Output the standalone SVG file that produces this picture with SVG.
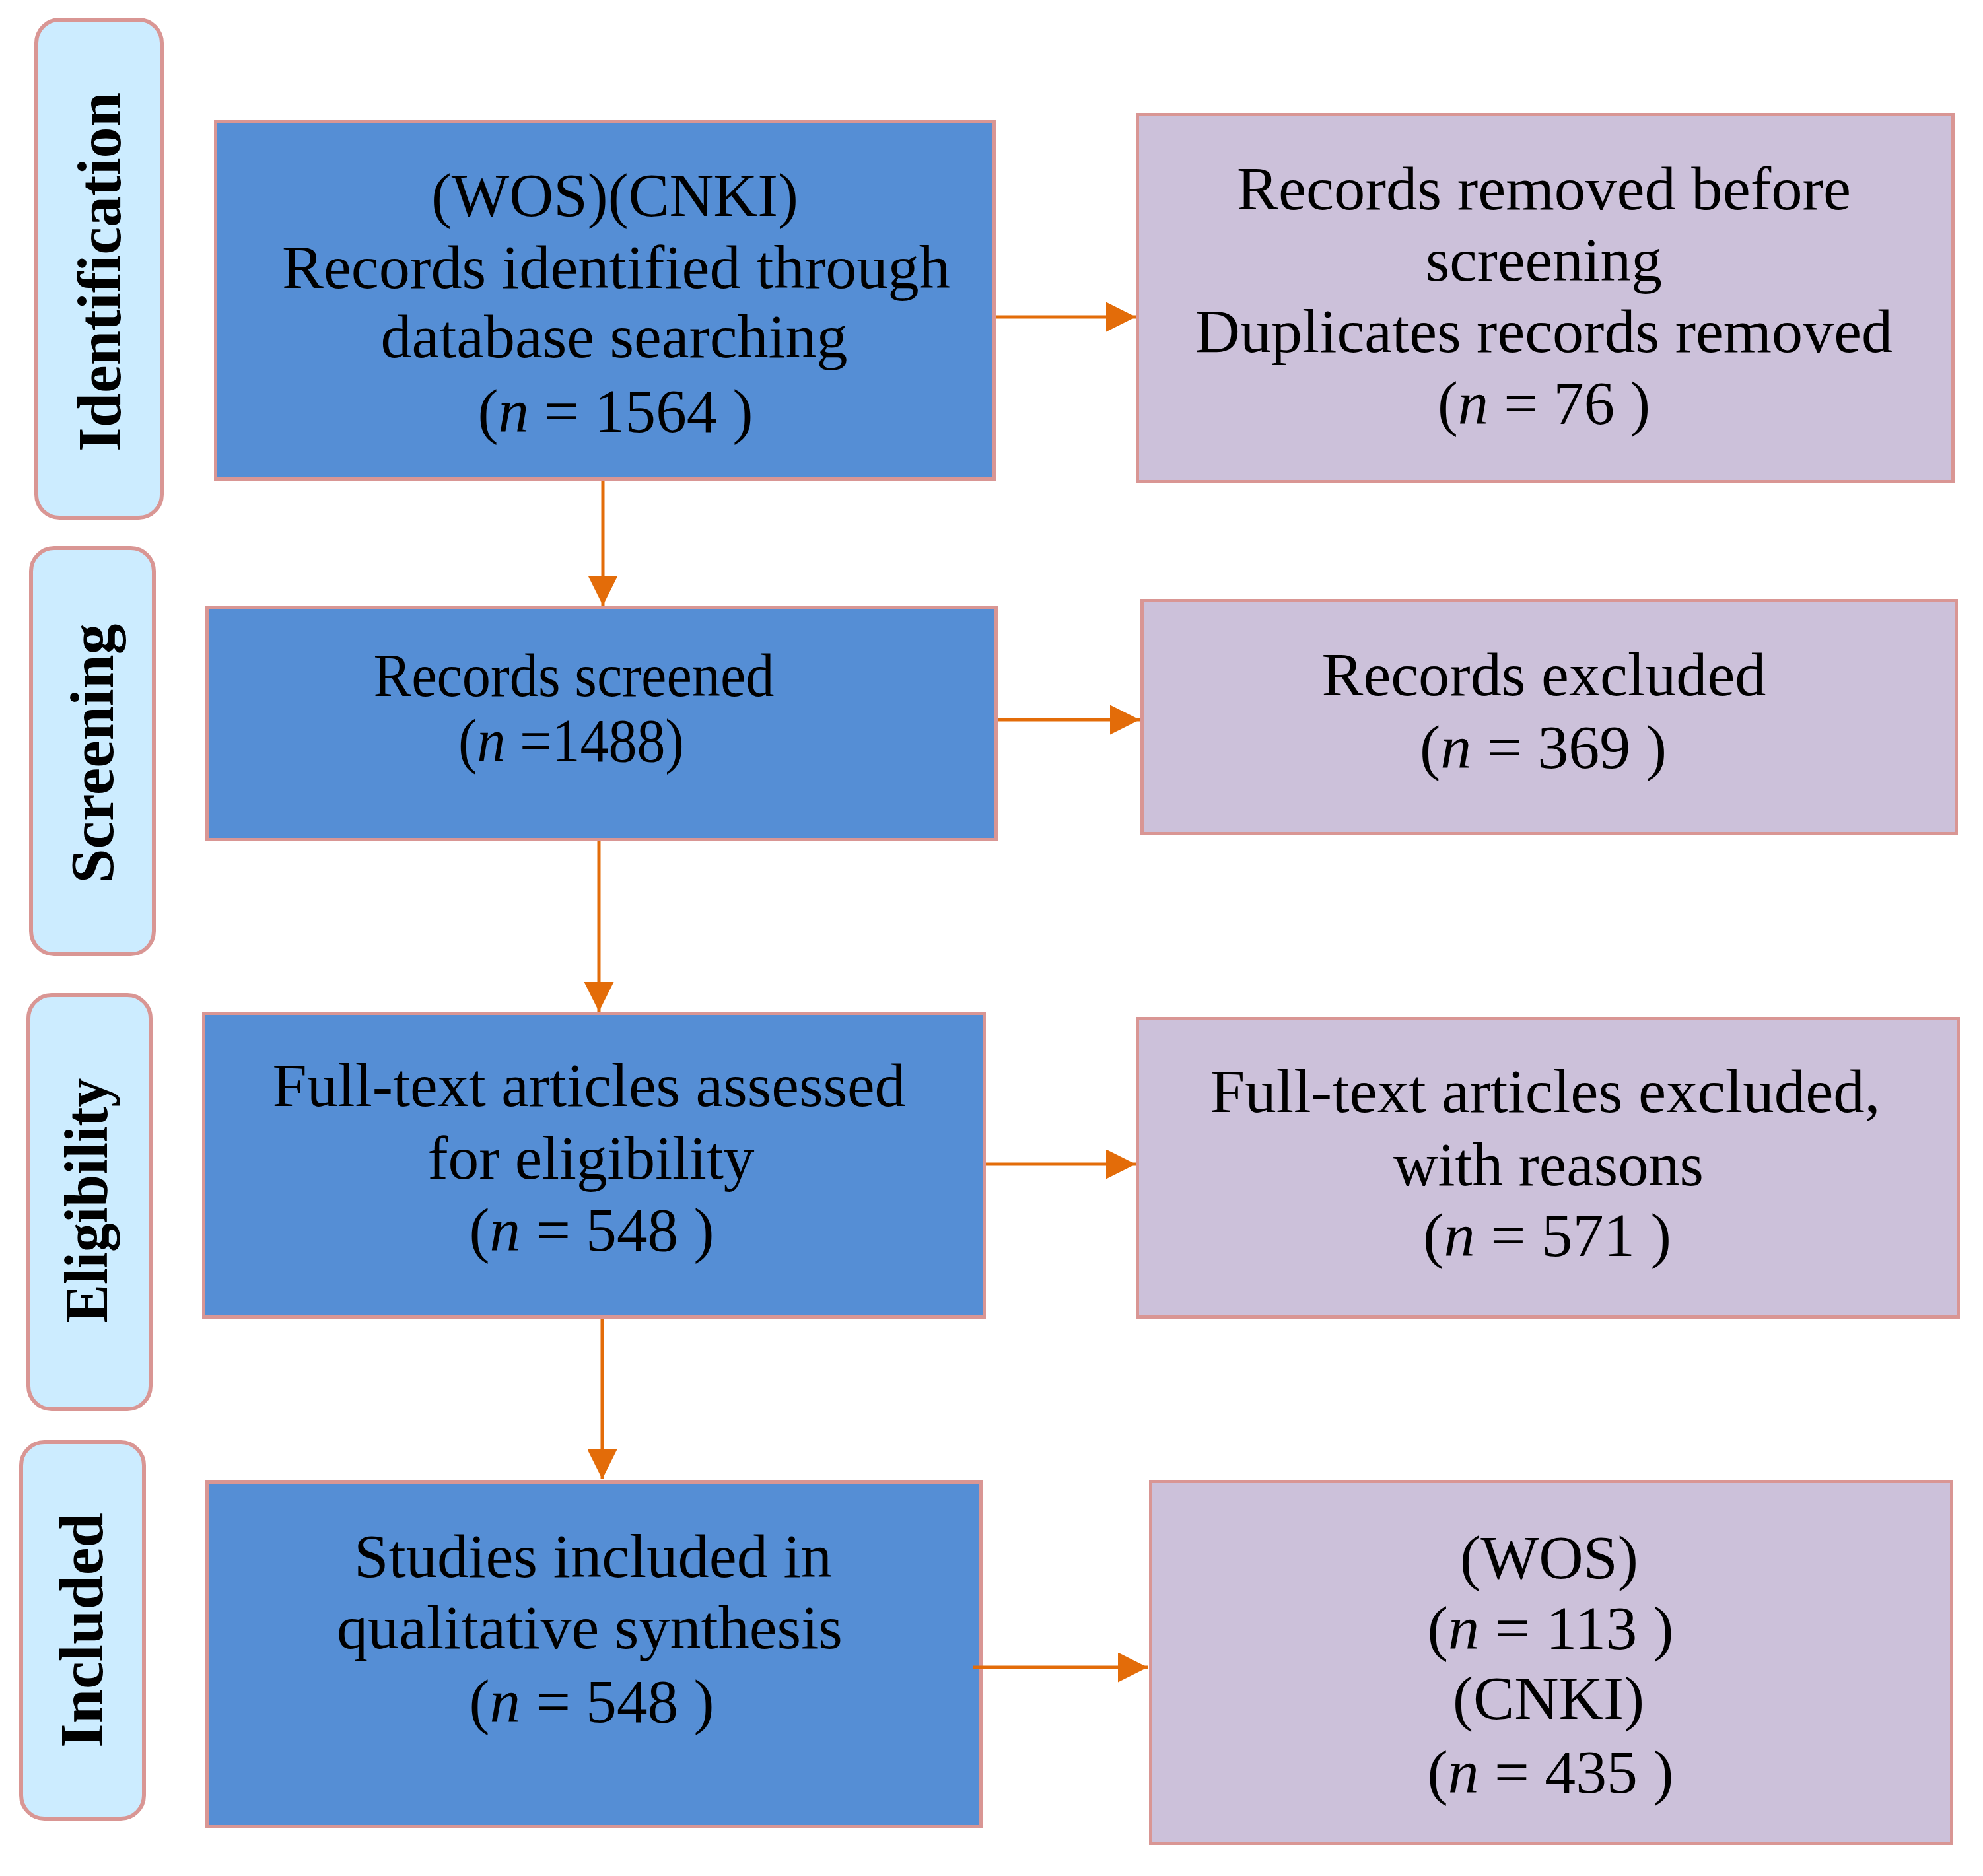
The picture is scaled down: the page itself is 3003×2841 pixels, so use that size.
<svg xmlns="http://www.w3.org/2000/svg" width="3003" height="2841" viewBox="0 0 3003 2841">
<style>
.bg{fill:#ffffff}
.pill{fill:#CCECFF;stroke:#D99694;stroke-width:6}
.main{fill:#558ED5;stroke:#D99694;stroke-width:5}
.side{fill:#CCC1DA;stroke:#D99694;stroke-width:5}
.t{font-family:"Liberation Serif","Times New Roman",serif;font-size:94px;fill:#000;text-anchor:middle}
.ph{font-family:"Liberation Serif","Times New Roman",serif;font-size:94px;font-weight:bold;fill:#000;text-anchor:middle}
.i{font-style:italic}
.conn{stroke:#E36C09;stroke-width:5;fill:none}
</style>
<defs>
<marker id="ah" viewBox="0 0 45 45" refX="45" refY="22.5" markerWidth="45" markerHeight="45" markerUnits="userSpaceOnUse" orient="auto">
<path d="M0,0 L45,22.5 L0,45 Z" fill="#E36C09"/>
</marker>
</defs>
<rect class="bg" x="0" y="0" width="3003" height="2841"/>

<g id="phase-identification">
<rect class="pill" x="55" y="30" width="190" height="754" rx="35" ry="35"/>
<text class="ph" x="182" y="412" transform="rotate(-90 182 412)" textLength="544" lengthAdjust="spacingAndGlyphs">Identification</text>
</g>
<g id="phase-screening">
<rect class="pill" x="47" y="830" width="186" height="615" rx="35" ry="35"/>
<text class="ph" x="171" y="1141" transform="rotate(-90 171 1141)" textLength="393" lengthAdjust="spacingAndGlyphs">Screening</text>
</g>
<g id="phase-eligibility">
<rect class="pill" x="43" y="1507" width="185" height="627" rx="35" ry="35"/>
<text class="ph" x="162" y="1818" transform="rotate(-90 162 1818)" textLength="371" lengthAdjust="spacingAndGlyphs">Eligibility</text>
</g>
<g id="phase-included">
<rect class="pill" x="32" y="2184" width="186" height="570" rx="35" ry="35"/>
<text class="ph" x="155" y="2469" transform="rotate(-90 155 2469)" textLength="356" lengthAdjust="spacingAndGlyphs">Included</text>
</g>

<g id="box-identified">
<rect class="main" x="326.5" y="183.5" width="1179" height="542"/>
<text class="t" x="931" y="327" textLength="556" lengthAdjust="spacingAndGlyphs">(WOS)(CNKI)</text>
<text class="t" x="933" y="436" textLength="1012" lengthAdjust="spacingAndGlyphs">Records identified through</text>
<text class="t" x="930" y="541" textLength="707" lengthAdjust="spacingAndGlyphs">database searching</text>
<text class="t" x="932" y="654" textLength="417" lengthAdjust="spacingAndGlyphs">(<tspan class="i">n</tspan> = 1564 )</text>
</g>

<g id="box-removed">
<rect class="side" x="1722.5" y="173.5" width="1235" height="556"/>
<text class="t" x="2338" y="317" textLength="930" lengthAdjust="spacingAndGlyphs">Records removed before</text>
<text class="t" x="2338" y="425" textLength="358" lengthAdjust="spacingAndGlyphs">screening</text>
<text class="t" x="2338" y="533" textLength="1056" lengthAdjust="spacingAndGlyphs">Duplicates records removed</text>
<text class="t" x="2338" y="642" textLength="322" lengthAdjust="spacingAndGlyphs">(<tspan class="i">n</tspan> = 76 )</text>
</g>

<g id="box-screened">
<rect class="main" x="313.5" y="919.5" width="1195" height="352"/>
<text class="t" x="869" y="1054" textLength="607" lengthAdjust="spacingAndGlyphs">Records screened</text>
<text class="t" x="865" y="1153" textLength="342" lengthAdjust="spacingAndGlyphs">(<tspan class="i">n</tspan> =1488)</text>
</g>

<g id="box-excluded">
<rect class="side" x="1729.5" y="909.5" width="1233" height="353"/>
<text class="t" x="2338" y="1053" textLength="673" lengthAdjust="spacingAndGlyphs">Records excluded</text>
<text class="t" x="2337" y="1163" textLength="374" lengthAdjust="spacingAndGlyphs">(<tspan class="i">n</tspan> = 369 )</text>
</g>

<g id="box-fulltext">
<rect class="main" x="308.5" y="1534.5" width="1182" height="460"/>
<text class="t" x="892" y="1675" textLength="959" lengthAdjust="spacingAndGlyphs">Full-text articles assessed</text>
<text class="t" x="895" y="1785" textLength="495" lengthAdjust="spacingAndGlyphs">for eligibility</text>
<text class="t" x="896" y="1894" textLength="371" lengthAdjust="spacingAndGlyphs">(<tspan class="i">n</tspan> = 548 )</text>
</g>

<g id="box-fulltext-excluded">
<rect class="side" x="1722.5" y="1542.5" width="1243" height="452"/>
<text class="t" x="2340" y="1684" textLength="1015" lengthAdjust="spacingAndGlyphs">Full-text articles excluded,</text>
<text class="t" x="2345" y="1795" textLength="470" lengthAdjust="spacingAndGlyphs">with reasons</text>
<text class="t" x="2343" y="1902" textLength="376" lengthAdjust="spacingAndGlyphs">(<tspan class="i">n</tspan> = 571 )</text>
</g>

<g id="box-included">
<rect class="main" x="313.5" y="2244.5" width="1172" height="522"/>
<text class="t" x="898" y="2388" textLength="724" lengthAdjust="spacingAndGlyphs">Studies included in</text>
<text class="t" x="893" y="2496" textLength="766" lengthAdjust="spacingAndGlyphs">qualitative synthesis</text>
<text class="t" x="896" y="2608" textLength="371" lengthAdjust="spacingAndGlyphs">(<tspan class="i">n</tspan> = 548 )</text>
</g>

<g id="box-sources">
<rect class="side" x="1742.5" y="2243.5" width="1213" height="548"/>
<text class="t" x="2346" y="2390" textLength="270" lengthAdjust="spacingAndGlyphs">(WOS)</text>
<text class="t" x="2348" y="2497" textLength="373" lengthAdjust="spacingAndGlyphs">(<tspan class="i">n</tspan> = 113 )</text>
<text class="t" x="2345" y="2603" textLength="290" lengthAdjust="spacingAndGlyphs">(CNKI)</text>
<text class="t" x="2348" y="2715" textLength="373" lengthAdjust="spacingAndGlyphs">(<tspan class="i">n</tspan> = 435 )</text>
</g>

<g id="connectors">
<line class="conn" x1="913" y1="728" x2="913" y2="917" marker-end="url(#ah)"/>
<line class="conn" x1="907" y1="1274" x2="907" y2="1532" marker-end="url(#ah)"/>
<line class="conn" x1="912" y1="1997" x2="912" y2="2240" marker-end="url(#ah)"/>
<line class="conn" x1="1508" y1="480" x2="1720" y2="480" marker-end="url(#ah)"/>
<line class="conn" x1="1511" y1="1090" x2="1726" y2="1090" marker-end="url(#ah)"/>
<line class="conn" x1="1493" y1="1763" x2="1720" y2="1763" marker-end="url(#ah)"/>
<line class="conn" x1="1473" y1="2525" x2="1738" y2="2525" marker-end="url(#ah)"/>
</g>
</svg>
